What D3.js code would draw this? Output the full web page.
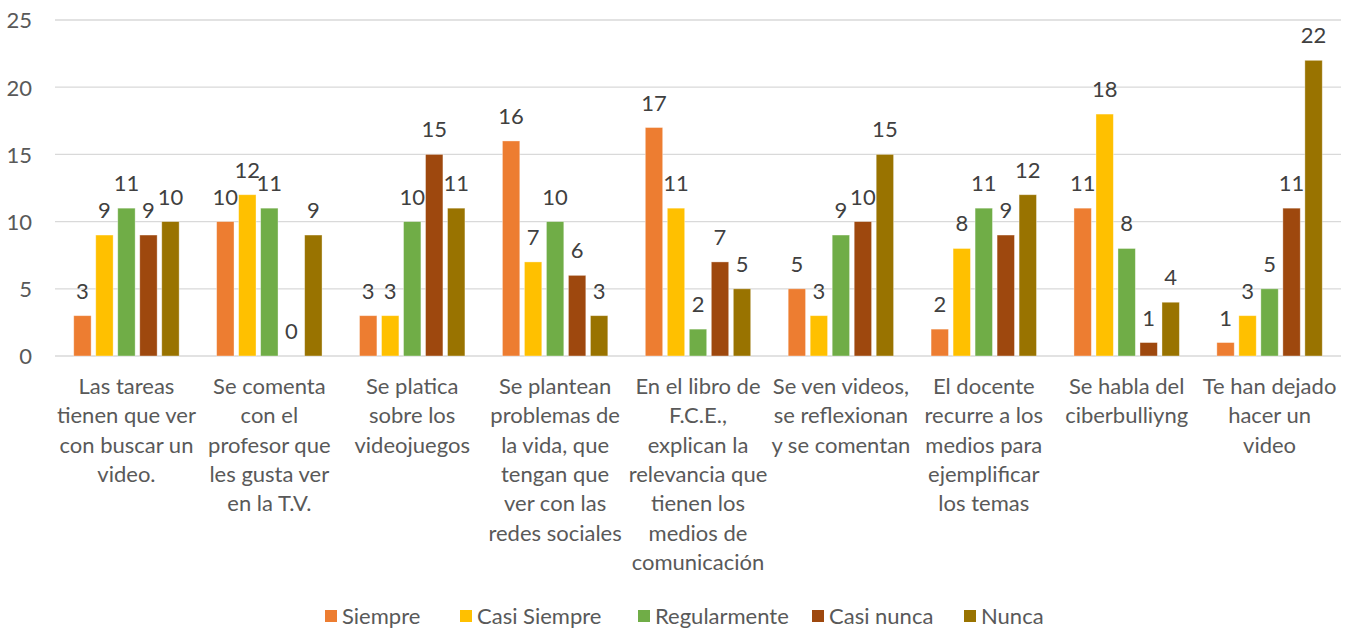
<!DOCTYPE html>
<html>
<head>
<meta charset="utf-8">
<script src="https://cdn.jsdelivr.net/npm/d3@7"></script>
<style>
  html, body { margin: 0; padding: 0; background: #fff; }
  svg { display: block; }
  text { font-family: Lato, "Open Sans", sans-serif; }
</style>
</head>
<body>
<svg id="chart" width="1355" height="628"></svg>
<script>
// Survey answers per statement, one array per frequency option
const categories = [
  ["Las tareas", "tienen que ver", "con buscar un", "video."],
  ["Se comenta", "con el", "profesor que", "les gusta ver", "en la T.V."],
  ["Se platica", "sobre los", "videojuegos"],
  ["Se plantean", "problemas de", "la vida, que", "tengan que", "ver con las", "redes sociales"],
  ["En el libro de", "F.C.E.,", "explican la", "relevancia que", "tienen los", "medios de", "comunicación"],
  ["Se ven videos,", "se reflexionan", "y se comentan"],
  ["El docente", "recurre a los", "medios para", "ejemplificar", "los temas"],
  ["Se habla del", "ciberbulliyng"],
  ["Te han dejado", "hacer un", "video"]
];
const seriesNames = ["Siempre", "Casi Siempre", "Regularmente", "Casi nunca", "Nunca"];
const siempre      = [3, 10, 3, 16, 17, 5, 2, 11, 1];
const casiSiempre  = [9, 12, 3, 7, 11, 3, 8, 18, 3];
const regularmente = [11, 11, 10, 10, 2, 9, 11, 8, 5];
const casiNunca    = [9, 0, 15, 6, 7, 10, 9, 1, 11];
const nunca        = [10, 9, 11, 3, 5, 15, 12, 4, 22];
const yTicks = [0, 5, 10, 15, 20, 25];
const colors = ["#ED7D31", "#FFC000", "#70AD47", "#9E480E", "#997300"];

const seriesValues = [siempre, casiSiempre, regularmente, casiNunca, nunca];
const catKeys = categories.map((c, i) => i);

const svg = d3.select("#chart");
const plot = { left: 55, right: 1341, top: 20, bottom: 356 };

const x0 = d3.scaleBand().domain(catKeys).range([plot.left, plot.right]).padding(0);
const groupWidth = 105.4;
const x1 = d3.scaleBand().domain(seriesNames)
  .range([-groupWidth / 2, groupWidth / 2]).paddingInner(0.21).paddingOuter(0);
const y = d3.scaleLinear().domain([0, 25]).range([plot.bottom, plot.top]);
const color = d3.scaleOrdinal().domain(seriesNames).range(colors);

// Horizontal gridlines
svg.append("g")
  .selectAll("line").data(yTicks).join("line")
  .attr("x1", plot.left).attr("x2", plot.right)
  .attr("y1", d => y(d)).attr("y2", d => y(d))
  .attr("stroke", "#D9D9D9").attr("stroke-width", 1.3);

// Y axis labels
const yAxis = d3.axisLeft(y).tickValues(yTicks).tickSize(0).tickPadding(0);
const yg = svg.append("g").attr("transform", "translate(32,0)").call(yAxis);
yg.select(".domain").remove();
yg.selectAll("text")
  .attr("fill", "#595959").attr("font-size", 22).attr("dy", "0.36em")
  .style("font-family", "Lato, sans-serif");

// Bars
const groups = svg.append("g").selectAll("g").data(catKeys).join("g")
  .attr("transform", d => `translate(${x0(d) + x0.bandwidth() / 2},0)`);

const cells = groups.selectAll("g.cell")
  .data(ci => seriesNames.map((s, si) => ({ s, v: seriesValues[si][ci] })))
  .join("g").attr("class", "cell");

cells.append("rect")
  .attr("x", d => x1(d.s))
  .attr("width", x1.bandwidth())
  .attr("y", d => y(d.v))
  .attr("height", d => y(0) - y(d.v))
  .attr("fill", d => color(d.s))
  .attr("stroke", "rgba(255,255,255,0.45)").attr("stroke-width", 0.8);

// Value labels above each bar
cells.append("text")
  .attr("x", d => x1(d.s) + x1.bandwidth() / 2)
  .attr("y", d => y(d.v) - 17)
  .attr("text-anchor", "middle")
  .attr("fill", "#404040").attr("font-size", 22)
  .text(d => d.v);

// Category labels, wrapped onto several lines
const xg = svg.append("g");
xg.selectAll("text").data(catKeys).join("text")
  .attr("x", d => x0(d) + x0.bandwidth() / 2)
  .attr("y", 394)
  .attr("text-anchor", "middle")
  .attr("fill", "#595959").attr("font-size", 22)
  .each(function (d) {
    d3.select(this).selectAll("tspan").data(categories[d]).join("tspan")
      .attr("x", x0(d) + x0.bandwidth() / 2)
      .attr("dy", (t, i) => i === 0 ? 0 : 29.3)
      .text(t => t);
  });

// Legend
const legendX = [325, 460, 638, 812, 964];
const legend = svg.append("g").selectAll("g").data(seriesNames).join("g")
  .attr("transform", (d, i) => `translate(${legendX[i]},616)`);
legend.append("rect")
  .attr("x", 0).attr("y", -6).attr("width", 12).attr("height", 12)
  .attr("fill", d => color(d));
legend.append("text")
  .attr("x", 17).attr("y", 0).attr("dy", "0.36em")
  .attr("fill", "#595959").attr("font-size", 22)
  .text(d => d);
</script>
</body>
</html>
